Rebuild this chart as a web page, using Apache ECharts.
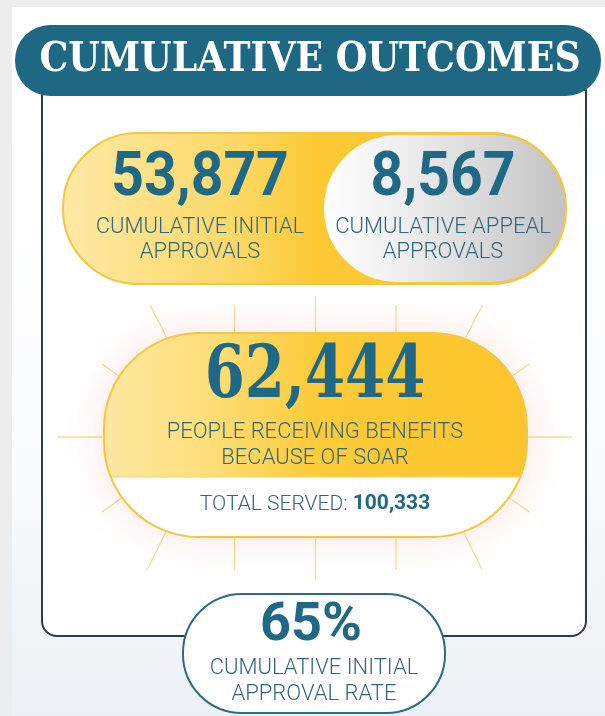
<!DOCTYPE html>
<html>
<head>
<meta charset="utf-8">
<script src="https://cdn.jsdelivr.net/npm/echarts@6/dist/echarts.min.js"></script>
<style>
html,body{margin:0;padding:0;background:#fff;}
#main{width:605px;height:716px;}
</style>
</head>
<body>
<div id="main"></div>
<script>
// ---- data ----
const headline = ['CUMULATIVE OUTCOMES'];
const approvalValues = [53877, 8567];
const approvalLabels = [['CUMULATIVE INITIAL', 'APPROVALS'], ['CUMULATIVE APPEAL', 'APPROVALS']];
const receivingValue = [62444];
const receivingLabel = ['PEOPLE RECEIVING BENEFITS', 'BECAUSE OF SOAR'];
const totalServedLabel = ['TOTAL SERVED:'];
const totalServed = [100333];
const approvalRate = [65];
const approvalRateLabel = ['CUMULATIVE INITIAL', 'APPROVAL RATE'];

const fmt = v => v.toLocaleString('en-US');

const TEAL = '#1f6986';
const LABEL = '#33667b';
const LIGHT_FONT = '300 22px "Roboto Light", Roboto';
const YEL_LINE = '#f3c743';

function lin(x, y, x2, y2, stops) {
  return {type: 'linear', x: x, y: y, x2: x2, y2: y2,
    colorStops: stops.map(s => ({offset: s[0], color: s[1]}))};
}
function centered(style) {
  return Object.assign({textAlign: 'center', textVerticalAlign: 'middle', align: 'center', verticalAlign: 'middle'}, style);
}

const chart = echarts.init(document.getElementById('main'), null, {renderer: 'canvas'});

const els = [];
// page background
els.push({type: 'rect', z: 0, shape: {x: 0, y: 0, width: 605, height: 716}, style: {fill: '#ededed'}});
els.push({type: 'rect', z: 1, shape: {x: 12, y: 7, width: 593, height: 709},
  style: {fill: lin(0, 0, 0, 1, [[0, '#ffffff'], [0.6, '#fbfcfd'], [1, '#ecf1f5']])}});

// outline box
els.push({type: 'rect', z: 2, shape: {x: 42, y: 90, width: 544, height: 546, r: [0, 0, 15, 15]},
  style: {fill: '#ffffff', stroke: '#2a3c4d', lineWidth: 2}});

// title pill
els.push({type: 'rect', z: 5, shape: {x: 15, y: 25, width: 586, height: 71, r: 35}, style: {fill: '#1f6884'}});
els.push({type: 'text', z: 6, x: 310, y: 60, scaleX: 0.885,
  style: centered({text: headline[0], fill: '#ffffff', font: 'bold 41px "DejaVu Serif"'})});

// top pill (initial + appeal)
els.push({type: 'rect', z: 3, shape: {x: 63, y: 133, width: 503, height: 151, r: 75},
  style: {fill: lin(0, 0, 1, 0, [[0, '#fee9a6'], [0.35, '#fdd865'], [0.5, '#fcc934'], [1, '#fbc52a']])}});
els.push({type: 'rect', z: 4, shape: {x: 324, y: 135, width: 241, height: 147, r: 73},
  style: {fill: lin(0, 0, 1, 0, [[0, '#fefefe'], [0.3, '#f0f0f0'], [1, '#c3c3c3']])}});
els.push({type: 'rect', z: 4, shape: {x: 63, y: 133, width: 503, height: 151, r: 75},
  style: {fill: 'none', stroke: YEL_LINE, lineWidth: 2}});

const topCenters = [200, 443];
approvalValues.forEach((v, i) => {
  els.push({type: 'text', z: 7, x: topCenters[i], y: 179, scaleX: 0.92,
    style: centered({text: fmt(v), fill: TEAL, font: 'bold 62px Roboto'})});
  approvalLabels[i].forEach((t, j) => {
    els.push({type: 'text', z: 7, x: topCenters[i], y: 227 + j * 25,
      style: centered({text: t, fill: LABEL, font: LIGHT_FONT})});
  });
});

// sun rays
const rays = [
  [150, 305, 172, 348], [234.6, 305, 234.6, 341], [315.5, 296, 315.5, 341], [396, 305, 396, 341], [482.5, 305, 460, 348],
  [102, 364, 130, 384], [529, 364, 501, 384],
  [57, 437, 120, 437], [572, 437, 510, 437],
  [102, 512, 130, 492], [529, 512, 501, 492],
  [147, 570, 170, 524], [234.6, 524, 234.6, 570], [315.5, 524, 315.5, 580], [396, 524, 396, 570], [482, 570, 460, 524]
];
rays.forEach(r => {
  els.push({type: 'line', z: 2, shape: {x1: r[0], y1: r[1], x2: r[2], y2: r[3]},
    style: {stroke: '#f7dc8c', lineWidth: 1.3}});
});

// middle pill with glow
const P = {x: 104, y: 333, w: 423, h: 204, r: 95};
els.push({type: 'rect', z: 3, shape: {x: P.x, y: P.y, width: P.w, height: P.h, r: P.r},
  style: {fill: lin(0, 0, 1, 0, [[0, '#fde8a2'], [0.25, '#fdde78'], [0.5, '#fccb38'], [1, '#fcc52b']]),
    shadowBlur: 40, shadowColor: 'rgba(240,165,150,0.32)'}});
// white bottom band of the pill (polygon following the rounded corners)
(function () {
  const yCut = 477;
  const cyB = P.y + P.h - P.r, cxL = P.x + P.r, cxR = P.x + P.w - P.r;
  const pts = [];
  const a0 = Math.asin((yCut - cyB) / P.r);
  const N = 24;
  for (let k = 0; k <= N; k++) {
    const a = a0 + (Math.PI / 2 - a0) * k / N;
    pts.push([cxR + P.r * Math.cos(a), cyB + P.r * Math.sin(a)]);
  }
  for (let k = 0; k <= N; k++) {
    const a = Math.PI / 2 + (Math.PI / 2 - a0) * k / N;
    pts.push([cxL + P.r * Math.cos(a), cyB + P.r * Math.sin(a)]);
  }
  els.push({type: 'polygon', z: 4, shape: {points: pts}, style: {fill: '#ffffff'}});
  els.push({type: 'line', z: 4, shape: {x1: pts[pts.length - 1][0], y1: yCut, x2: pts[0][0], y2: yCut},
    style: {stroke: '#f3d27a', lineWidth: 1}});
})();
els.push({type: 'rect', z: 5, shape: {x: P.x, y: P.y, width: P.w, height: P.h, r: P.r},
  style: {fill: 'none', stroke: YEL_LINE, lineWidth: 2}});

els.push({type: 'text', z: 7, x: 315, y: 378, scaleX: 0.8,
  style: centered({text: fmt(receivingValue[0]), fill: TEAL, font: 'bold 72px "DejaVu Serif"'})});
receivingLabel.forEach((t, j) => {
  els.push({type: 'text', z: 7, x: 315, y: 432 + j * 26,
    style: centered({text: t, fill: LABEL, font: LIGHT_FONT})});
});
els.push({type: 'text', z: 7, x: 315, y: 504,
  style: centered({text: '{a|' + totalServedLabel[0] + ' }{b|' + fmt(totalServed[0]) + '}',
    rich: {a: {fill: LABEL, color: LABEL, fontFamily: '"Roboto Light", Roboto', fontWeight: 300, fontSize: 21},
           b: {fill: TEAL, color: TEAL, fontFamily: 'Roboto', fontWeight: 'bold', fontSize: 21}}})});

// bottom pill
els.push({type: 'rect', z: 6, shape: {x: 183, y: 594, width: 262, height: 119, r: 59},
  style: {fill: '#ffffff', stroke: '#2c6b81', lineWidth: 2}});
els.push({type: 'text', z: 7, x: 311, y: 626,
  style: centered({text: approvalRate[0] + '%', fill: TEAL, font: 'bold 54px Roboto'})});
approvalRateLabel.forEach((t, j) => {
  els.push({type: 'text', z: 7, x: 314, y: 668 + j * 26,
    style: centered({text: t, fill: LABEL, font: LIGHT_FONT})});
});

chart.setOption({animation: false, graphic: {elements: els}});
</script>
</body>
</html>
